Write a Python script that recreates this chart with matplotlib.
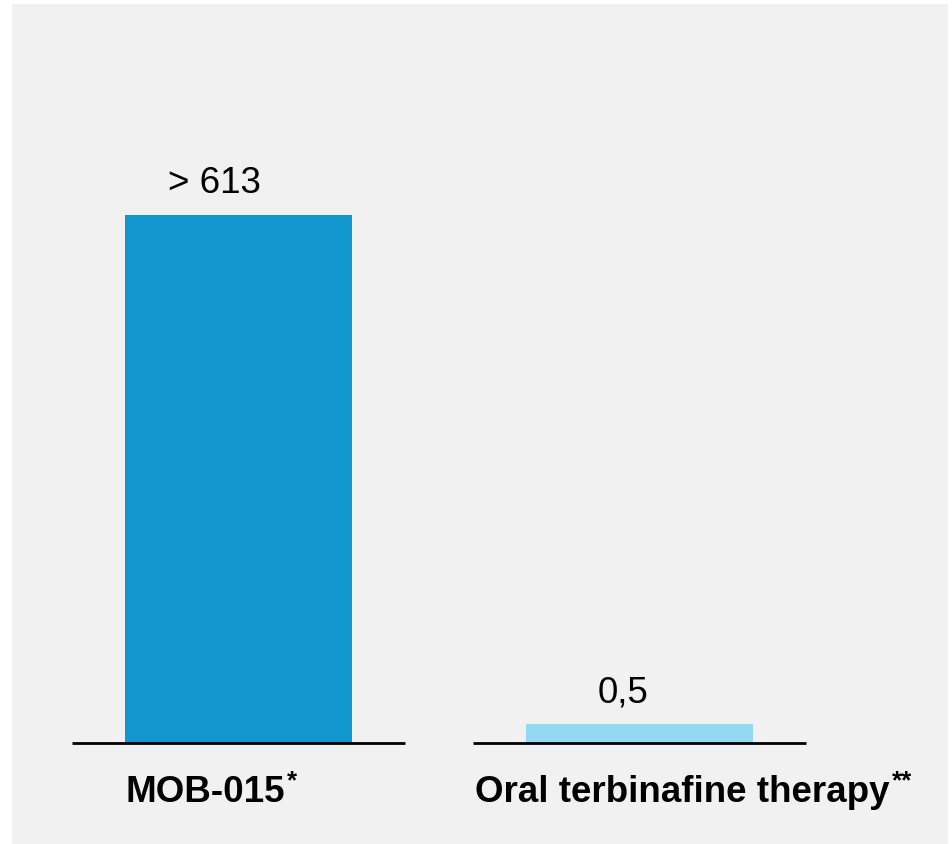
import matplotlib
matplotlib.use("Agg")
import matplotlib.pyplot as plt
from matplotlib.patches import Rectangle

plt.rcParams['font.family'] = ['Liberation Sans', 'DejaVu Sans']

# data
categories = ["MOB-015", "Oral terbinafine therapy"]
footnotes = ["*", "**"]
values = [613, 0.5]
value_labels = ["> 613", "0,5"]
bar_colors = ["#1196cd", "#94d9f4"]

W, H, DPI = 953, 845, 100
fig = plt.figure(figsize=(W / DPI, H / DPI), dpi=DPI, facecolor="white")

# grey panel behind the chart
fig.add_artist(Rectangle((12 / W, 0), 936 / W, 840 / H, transform=fig.transFigure,
                         facecolor="#f1f1f1", edgecolor="none", zorder=-5))

ax = fig.add_axes([12 / W, 101 / H, 936 / W, 739 / H])
ax.set_facecolor("none")
ax.set_zorder(2)
for s in ax.spines.values():
    s.set_visible(False)

# log axis so that the tiny bar is still visible
ax.set_yscale("log")
ybot, ytop = 10 ** -0.4163, 10 ** 4.0678
x = [0, 1]
ax.bar(x, values, width=0.566, color=bar_colors, zorder=2)
ax.set_ylim(ybot, ytop)
ax.set_xlim(-(238.5 - 12) / 401, (948 - 238.5) / 401)
ax.minorticks_off()
ax.set_xticks([])
ax.set_yticks([])

# baselines under each bar
for xi in x:
    ax.plot([xi - 0.415, xi + 0.415], [ybot, ybot], color="black", lw=2,
            solid_capstyle="butt", clip_on=False, zorder=3)

# value labels
label_dx = [-17.3, -11.9]
for xi, v, txt, dx in zip(x, values, value_labels, label_dx):
    ax.annotate(txt, xy=(xi, v), xytext=(dx, 16.5), textcoords="offset points",
                ha="center", va="baseline", fontsize=26.5, color="black")

# category labels with superscript footnote marks
cat_dx = [-81.7, -118.4]
for xi, name, fn, dx in zip(x, categories, footnotes, cat_dx):
    t = ax.annotate(name, xy=(xi, ybot), xytext=(dx, -41.8), textcoords="offset points",
                    ha="left", va="baseline", fontsize=26.5, fontweight="bold", color="black")
    ax.annotate(fn, xy=(1, 1), xycoords=t, xytext=(1.5, 4), textcoords="offset points",
                ha="left", va="top", fontsize=18.5, fontweight="bold", color="black")

fig.savefig("out.png", dpi=DPI, facecolor="white")
